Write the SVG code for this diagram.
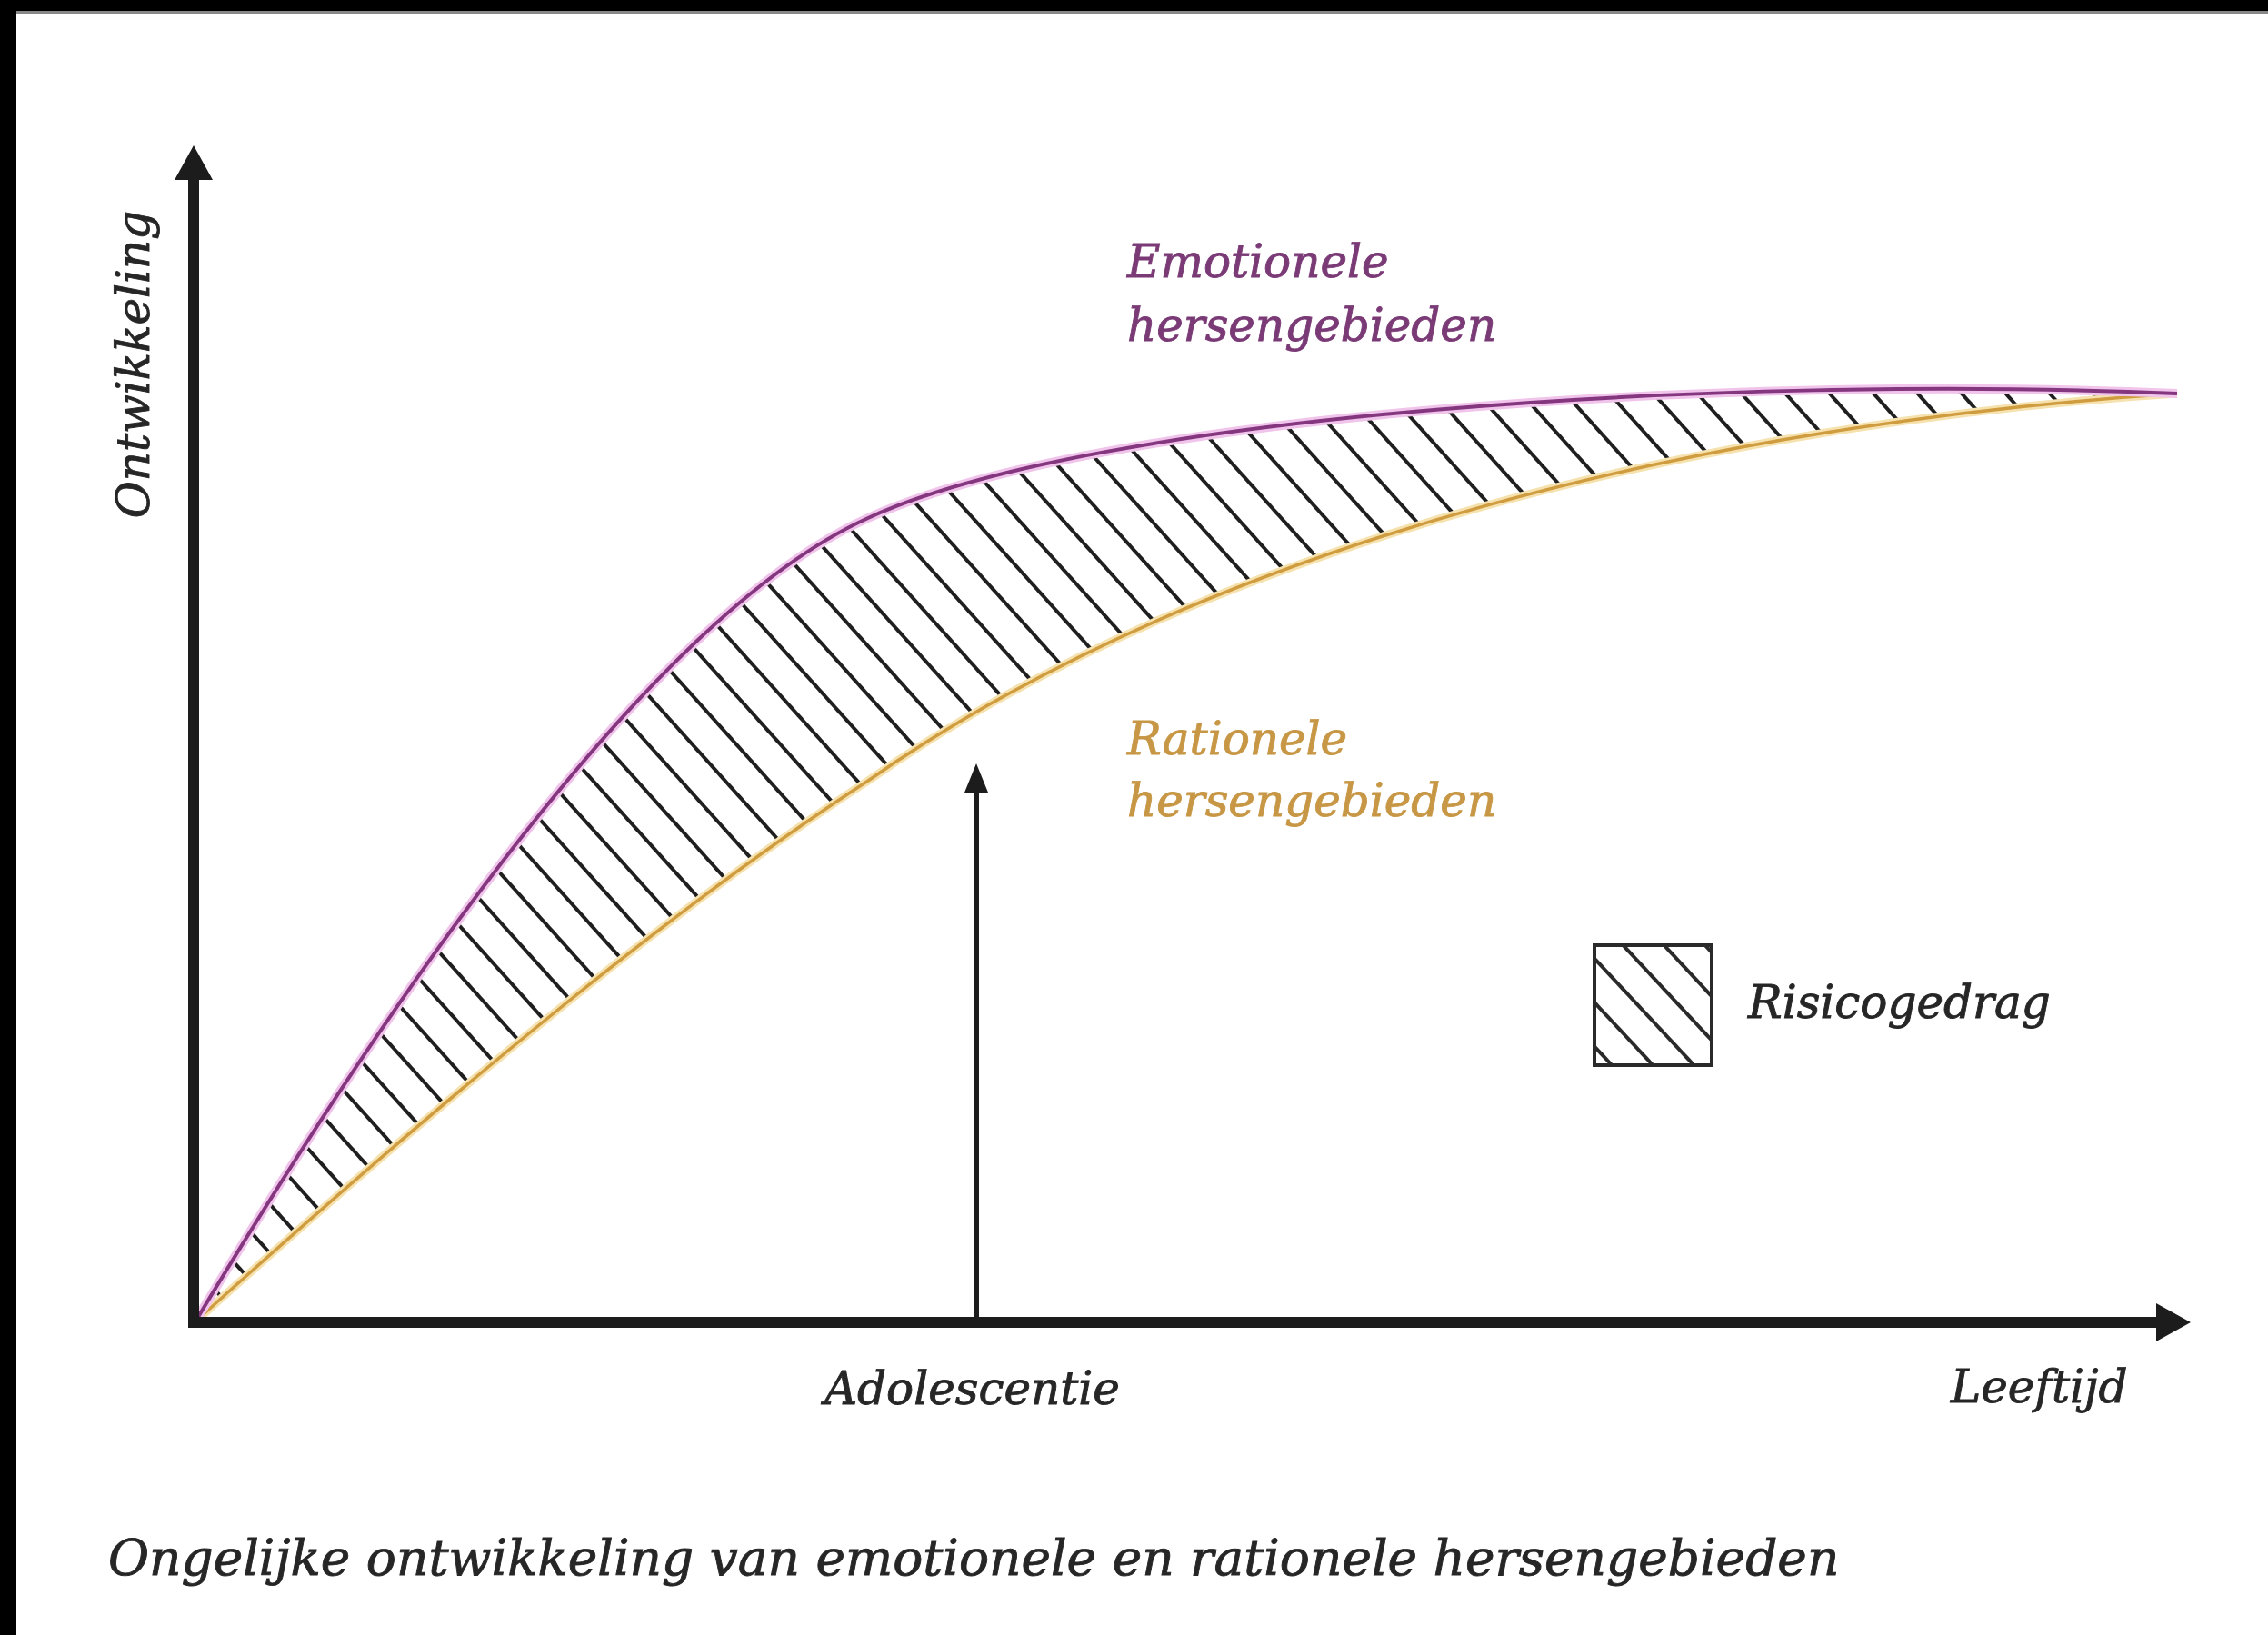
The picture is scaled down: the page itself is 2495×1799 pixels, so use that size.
<svg xmlns="http://www.w3.org/2000/svg" width="2495" height="1799" viewBox="0 0 2495 1799">
  <style>
    .lbl { font-family: "DejaVu Serif", "Liberation Serif", serif; font-style: italic; stroke-width: 0.9; }
    .dark { fill: #262626; stroke: #262626; }
    .emo { fill: #7a3a76; stroke: #7a3a76; }
    .rat { fill: #c79745; stroke: #c79745; }
    .axis { stroke: #1c1c1c; fill: none; }
  </style>
  <defs>
    <pattern id="hatch" patternUnits="userSpaceOnUse" width="60" height="36" patternTransform="rotate(48)">
      <line x1="0" y1="18" x2="60" y2="18" stroke="#1f1f1f" stroke-width="3.8"/>
    </pattern>
    <pattern id="hatchLegend" patternUnits="userSpaceOnUse" width="60" height="33" patternTransform="translate(1754,1040) rotate(47)">
      <line x1="0" y1="10" x2="60" y2="10" stroke="#2a2a2a" stroke-width="4"/>
    </pattern>
    <marker id="axisHead" markerUnits="userSpaceOnUse" markerWidth="40" markerHeight="44" refX="0" refY="21" orient="auto">
      <path d="M0,0 L38,21 L0,42 Z" fill="#1c1c1c"/>
    </marker>
    <marker id="smallHead" markerUnits="userSpaceOnUse" markerWidth="34" markerHeight="28" refX="0" refY="13" orient="auto">
      <path d="M0,0 L32,13 L0,26 Z" fill="#1c1c1c"/>
    </marker>
  </defs>

  <rect x="0" y="0" width="2495" height="1799" fill="#ffffff"/>
  <g id="frame">
    <rect x="0" y="0" width="2495" height="12" fill="#000"/>
    <rect x="0" y="12" width="2495" height="3" fill="#888"/>
    <rect x="0" y="0" width="18" height="1799" fill="#000"/>
  </g>

  <g id="risk-area">
    <path d="M215,1454 C465,1037 735,669 955,570 C1205,455 1900,412 2395,433 C1895,465 1340,590 955,859 C755,989 515,1184 215,1454 Z" fill="url(#hatch)"/>
  </g>

  <g id="curve-rationeel" fill="none">
    <path d="M215,1454 C515,1184 755,989 955,859 C1340,590 1895,465 2395,433" stroke="#f6e2ae" stroke-width="9"/>
    <path d="M215,1454 C515,1184 755,989 955,859 C1340,590 1895,465 2395,433" stroke="#d09c40" stroke-width="3.5"/>
  </g>
  <g id="curve-emotioneel" fill="none">
    <path d="M215,1454 C465,1037 735,669 955,570 C1205,455 1900,412 2395,433" stroke="#f1c4ec" stroke-width="10"/>
    <path d="M215,1454 C465,1037 735,669 955,570 C1205,455 1900,412 2395,433" stroke="#84377f" stroke-width="4"/>
  </g>

  <g id="connectors">
    <line class="axis" x1="213" y1="1461" x2="213" y2="198" stroke-width="12" marker-end="url(#axisHead)"/>
    <line class="axis" x1="207" y1="1455" x2="2372" y2="1455" stroke-width="12" marker-end="url(#axisHead)"/>
    <line class="axis" x1="1074" y1="1455" x2="1074" y2="872" stroke-width="6" marker-end="url(#smallHead)"/>
  </g>

  <g id="label-ontwikkeling">
    <text class="lbl dark" font-size="50" text-anchor="middle" transform="translate(164,401) rotate(-90)">Ontwikkeling</text>
  </g>
  <g id="label-emotionele">
    <text class="lbl emo" font-size="50" x="1240" y="305">Emotionele</text>
    <text class="lbl emo" font-size="50" x="1240" y="375">hersengebieden</text>
  </g>
  <g id="label-rationele">
    <text class="lbl rat" font-size="50" x="1240" y="830">Rationele</text>
    <text class="lbl rat" font-size="50" x="1240" y="898">hersengebieden</text>
  </g>
  <g id="legend">
    <rect x="1754" y="1040" width="129" height="132" fill="url(#hatchLegend)" stroke="#2a2a2a" stroke-width="4"/>
    <text class="lbl dark" font-size="50" x="1923" y="1120">Risicogedrag</text>
  </g>
  <g id="label-adolescentie">
    <text class="lbl dark" font-size="50" x="907" y="1545">Adolescentie</text>
  </g>
  <g id="label-leeftijd">
    <text class="lbl dark" font-size="50" x="2146" y="1543">Leeftijd</text>
  </g>
  <g id="caption">
    <text class="lbl dark" font-size="55" x="119" y="1733">Ongelijke ontwikkeling van emotionele en rationele hersengebieden</text>
  </g>
</svg>
